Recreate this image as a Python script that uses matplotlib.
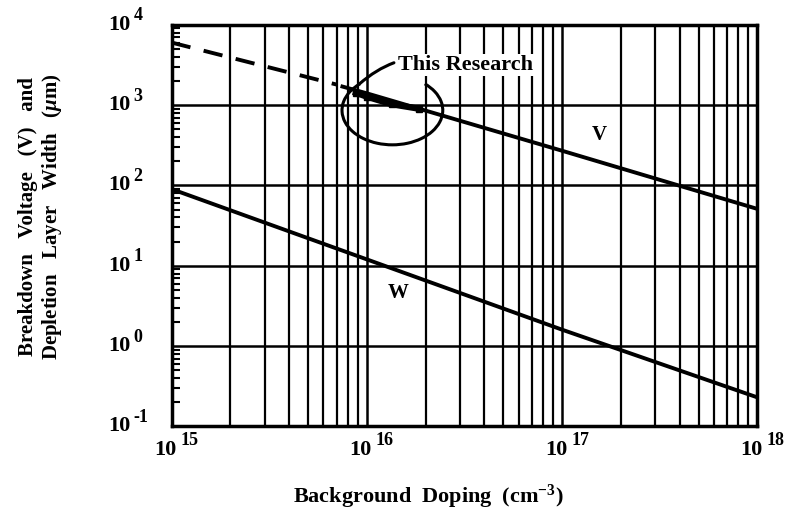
import numpy as np
import matplotlib.pyplot as plt
from matplotlib.patches import Arc
from matplotlib.ticker import LogLocator, FixedLocator, NullFormatter

plt.rcParams["font.family"] = ["Liberation Serif", "DejaVu Serif"]
plt.rcParams["mathtext.fontset"] = "custom"
plt.rcParams["mathtext.rm"] = "Liberation Serif:bold"
plt.rcParams["mathtext.it"] = "Liberation Serif:bold:italic"

# Dataset
v_dash_doping = np.array([1e15, 7e15])
v_dash_volts = np.array([6000, 1800])

v_doping = np.array([7.5e15, 1e16, 1e17, 1e18])
v_volts = np.array([1700, 1400, 270, 51])

w_doping = np.array([1e15, 1e16, 1e17, 1e18])
w_width = np.array([90, 12, 1.6, 0.23])

research_doping = np.array([8.8e15, 1.0e16, 1.35e16, 1.85e16])
research_volts = np.array([1420, 1270, 1020, 900])

x_ticks = [1e15, 1e16, 1e17, 1e18]
x_exps = ["15", "16", "17", "18"]
y_ticks = [1e-1, 1e0, 1e1, 1e2, 1e3, 1e4]
y_exps = ["-1", "0", "1", "2", "3", "4"]

fig = plt.figure(figsize=(7.98, 5.15), dpi=100)
ax = fig.add_axes([0.215, 0.172, 0.734, 0.780])
ax.set_xscale("log")
ax.set_yscale("log")
ax.set_xlim(1e15, 1e18)
ax.set_ylim(1e-1, 1e4)

# grid: x gets majors + minors, y only decades
ax.xaxis.set_minor_locator(LogLocator(base=10, subs=np.arange(2, 10)))
ax.xaxis.set_minor_formatter(NullFormatter())
ax.yaxis.set_minor_locator(LogLocator(base=10, subs=np.arange(2, 10)))
ax.yaxis.set_minor_formatter(NullFormatter())
ax.grid(True, which="major", axis="both", color="black", lw=1.8)
ax.grid(True, which="minor", axis="x", color="black", lw=1.6)

ax.plot(v_dash_doping, v_dash_volts, color="black", lw=2.8, ls=(0, (5, 3.5)), zorder=3)
ax.plot(v_doping, v_volts, color="black", lw=2.8, zorder=3)
ax.plot(w_doping, w_width, color="black", lw=2.8, zorder=3)
ax.plot(research_doping, research_volts, color="black", lw=4.5, marker="s",
        ms=5, zorder=4)

ax.xaxis.set_major_locator(FixedLocator(x_ticks))
ax.yaxis.set_major_locator(FixedLocator(y_ticks))
ax.set_xticklabels([])
ax.set_yticklabels([])
ax.tick_params(which="both", direction="in", top=False, right=False)
ax.tick_params(which="major", length=0)
ax.tick_params(axis="y", which="minor", length=6, width=1.5)
ax.tick_params(axis="x", which="minor", length=0)

# "10" with a large raised exponent, like the original typesetting
xt = ax.get_xaxis_transform()
for t, e in zip(x_ticks, x_exps):
    ax.annotate("10", xy=(t, 0), xycoords=xt, xytext=(5, -24), textcoords="offset pixels",
                ha="right", va="center", fontsize=16, fontweight="bold")
    ax.annotate(e, xy=(t, 0), xycoords=xt, xytext=(9, -14), textcoords="offset pixels",
                ha="left", va="center", fontsize=13, fontweight="bold")
yt = ax.get_yaxis_transform()
for t, e in zip(y_ticks, y_exps):
    ax.annotate("10", xy=(0, t), xycoords=yt, xytext=(-41, 0), textcoords="offset pixels",
                ha="right", va="center", fontsize=16, fontweight="bold")
    ax.annotate(e, xy=(0, t), xycoords=yt, xytext=(-38, 9), textcoords="offset pixels",
                ha="left", va="center", fontsize=13, fontweight="bold")

for s in ax.spines.values():
    s.set_linewidth(2.5)

ax.text(1.55e17, 430, "V", fontsize=15, fontweight="bold", ha="center", va="center")
ax.text(1.45e16, 4.6, "W", fontsize=15, fontweight="bold", ha="center", va="center")

# hand-drawn loop around "This Research"
ax.add_patch(Arc((0.377, 0.787), 0.172, 0.172, theta1=130, theta2=410,
                 transform=ax.transAxes, color="black", lw=2.2, zorder=5))
ax.annotate("This Research", xy=(0.321, 0.853), xycoords="axes fraction",
            xytext=(0.386, 0.90), textcoords="axes fraction",
            fontsize=16, fontweight="bold", va="center", ha="left",
            arrowprops=dict(arrowstyle="-", lw=2.2, color="black",
                            connectionstyle="arc3,rad=0.3",
                            shrinkA=2, shrinkB=0),
            bbox=dict(boxstyle="square,pad=0.05", fc="white", ec="none"), zorder=6)

fig.text(428 / 798, 1 - 497 / 515, "Background  Doping  (cm$^{-3}$)",
         fontsize=16, fontweight="bold", ha="center", va="center")
fig.text(28 / 798, 1 - 217 / 515, "Breakdown   Voltage   (V)   and",
         fontsize=15, fontweight="bold", rotation=90, ha="center", va="center")
fig.text(52 / 798, 1 - 217 / 515, "Depletion   Layer   Width   ($\\mu$m)",
         fontsize=15, fontweight="bold", rotation=90, ha="center", va="center")

fig.savefig("out.png", dpi=100)
